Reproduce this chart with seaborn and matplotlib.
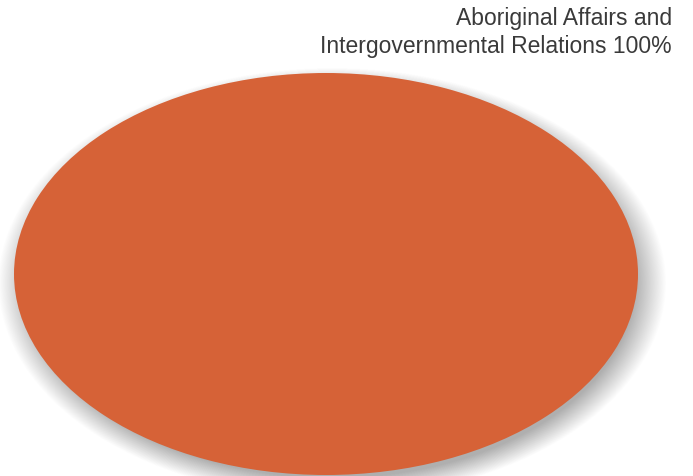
import matplotlib
matplotlib.use("Agg")
import matplotlib.pyplot as plt
import seaborn as sns
import numpy as np

categories = ["Aboriginal Affairs and\nIntergovernmental Relations"]
values = [100]
colors = ["#D66237"]

sns.set_theme(style="white")
plt.rcParams['font.family'] = ['Liberation Sans', 'DejaVu Sans']

fig = plt.figure(figsize=(6.93, 4.76), dpi=100)
fig.patch.set_facecolor("white")
ax = fig.add_axes([14/693, 1 - 475/476, 624/693, 402/476])

# soft shadow layers
n = 40
for i in range(n):
    t = i / (n - 1)
    ax.pie(values, colors=["black"], radius=0.97 + 0.1 * (1 - t),
           center=(0.02, -0.045), startangle=90, counterclock=False,
           wedgeprops=dict(alpha=0.009, linewidth=0))

wedges, _ = ax.pie(values, colors=colors, startangle=90, counterclock=False,
                   wedgeprops=dict(linewidth=0))
for w in ax.patches:
    w.set_clip_on(False)
ax.set_aspect("auto")
ax.set_xlim(-1, 1)
ax.set_ylim(-1, 1)
ax.axis("off")

pct = values[0] / sum(values) * 100
fig.text(672/693, 1 - 7/476, f"{categories[0]} {pct:.0f}%", ha="right", va="top",
         fontsize=16.5, color="#3a3a3a", linespacing=1.25)

fig.savefig("out.png", dpi=100, facecolor="white")
